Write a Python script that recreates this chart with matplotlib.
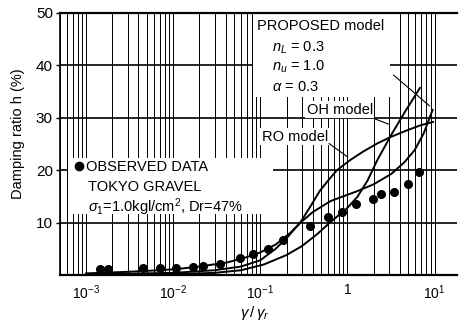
import matplotlib
matplotlib.use("Agg")
import matplotlib.pyplot as plt
from matplotlib.patches import Rectangle
from matplotlib.ticker import LogLocator, FixedLocator, FixedFormatter, NullFormatter

plt.rcParams['font.family'] = ['Liberation Sans', 'DejaVu Sans']
plt.rcParams['mathtext.fontset'] = 'custom'
plt.rcParams['mathtext.rm'] = 'Liberation Sans'
plt.rcParams['mathtext.it'] = 'Liberation Sans:italic'

# ---- data ----
obs_strain = [1.44e-3, 1.78e-3, 4.5e-3, 7.0e-3, 1.07e-2, 1.68e-2, 2.19e-2, 3.44e-2,
              0.058, 0.082, 0.122, 0.18, 0.37, 0.60, 0.865, 1.25, 1.96, 2.42,
              3.42, 4.95, 6.6]
obs_damping = [1.1, 1.1, 1.3, 1.3, 1.4, 1.6, 1.8, 2.1,
               3.2, 4.0, 5.0, 6.7, 9.3, 11.1, 12.0, 13.5, 14.5, 15.5,
               15.8, 17.4, 19.7]

prop_strain = [1e-3, 3e-3, 7e-3, 0.0107, 0.02, 0.042, 0.07, 0.1, 0.15, 0.22, 0.29,
               0.4, 0.64, 1.0, 1.3, 2.0, 3.2, 4.5, 5.9, 7.5, 9.5]
prop_damping = [0.3, 0.6, 0.9, 1.1, 1.6, 2.4, 3.4, 4.3, 5.8, 8.0, 10.0,
                12.0, 14.1, 15.3, 16.0, 17.3, 19.3, 21.5, 23.8, 27.0, 31.5]

ro_strain = [1e-3, 0.01, 0.03, 0.06, 0.1, 0.15, 0.2, 0.29, 0.38, 0.48, 0.62,
             0.76, 1.07, 1.5, 2.2, 3.1, 5.0, 7.0, 9.6]
ro_damping = [0.1, 0.4, 0.9, 1.6, 2.8, 5.0, 7.0, 10.1, 13.2, 16.0, 18.3,
              20.0, 21.9, 23.5, 25.1, 26.3, 27.7, 28.6, 29.2]

oh_strain = [1e-3, 0.01, 0.03, 0.06, 0.11, 0.2, 0.3, 0.45, 0.63, 1.0, 1.3,
             1.7, 2.2, 3.2, 4.6, 6.8]
oh_damping = [0.05, 0.15, 0.4, 0.9, 2.0, 3.8, 5.5, 7.8, 10.0, 12.8, 14.9,
              18.0, 21.9, 26.8, 31.2, 35.7]

x_ticks = [1e-3, 1e-2, 1e-1, 1, 10]
x_tick_labels = [r'$10^{-3}$', r'$10^{-2}$', r'$10^{-1}$', '1', r'$10^{1}$']
y_ticks = [10, 20, 30, 40, 50]

# ---- figure ----
fig = plt.figure(figsize=(4.6, 3.25), dpi=100)
ax = fig.add_axes([0.130, 0.154, 0.863, 0.806])
ax.set_xscale('log')
ax.set_xlim(5e-4, 18)
ax.set_ylim(0, 50)

ax.xaxis.set_major_locator(FixedLocator(x_ticks))
ax.xaxis.set_major_formatter(FixedFormatter(x_tick_labels))
ax.xaxis.set_minor_locator(LogLocator(base=10, subs=range(2, 10), numticks=20))
ax.xaxis.set_minor_formatter(NullFormatter())
ax.set_yticks(y_ticks)
ax.set_yticklabels([str(v) for v in y_ticks])

ax.set_axisbelow(True)
ax.grid(True, which='both', axis='x', color='black', lw=0.7)
ax.grid(True, which='major', axis='y', color='black', lw=1.2)

ax.tick_params(axis='x', which='both', length=0, pad=6, labelsize=10)
ax.tick_params(axis='y', which='major', length=3, width=1, pad=2, labelsize=11)

ax.spines['right'].set_visible(False)
ax.spines['top'].set_linewidth(1.6)
ax.spines['bottom'].set_linewidth(1.6)
ax.spines['left'].set_linewidth(1.2)

# white boxes covering grid
ax.add_patch(Rectangle((0.486, 0.679), 0.345, 0.321, transform=ax.transAxes,
                       facecolor='white', edgecolor='none', zorder=1))
ax.add_patch(Rectangle((0.020, 0.233), 0.517, 0.214, transform=ax.transAxes,
                       facecolor='white', edgecolor='none', zorder=1))

# curves
ax.plot(prop_strain, prop_damping, color='black', lw=1.4, zorder=3)
ax.plot(ro_strain, ro_damping, color='black', lw=1.4, zorder=3)
ax.plot(oh_strain, oh_damping, color='black', lw=1.4, zorder=3)
ax.plot(obs_strain, obs_damping, 'o', color='black', ms=5.5, zorder=4)

fs = 10.5
ax.text(0.496, 0.950, 'PROPOSED model', transform=ax.transAxes, fontsize=fs,
        va='center', ha='left', zorder=5)
ax.text(0.534, 0.866, r'$n_L$ = 0.3', transform=ax.transAxes, fontsize=fs,
        va='center', ha='left', zorder=5)
ax.text(0.534, 0.794, r'$n_u$ = 1.0', transform=ax.transAxes, fontsize=fs,
        va='center', ha='left', zorder=5)
ax.text(0.534, 0.718, r'$\alpha$ = 0.3', transform=ax.transAxes, fontsize=fs,
        va='center', ha='left', zorder=5)

ax.text(0.622, 0.630, 'OH model', transform=ax.transAxes, fontsize=fs,
        va='center', ha='left', zorder=5,
        bbox=dict(facecolor='white', edgecolor='none', pad=1))
ax.text(0.509, 0.527, 'RO model', transform=ax.transAxes, fontsize=fs,
        va='center', ha='left', zorder=5,
        bbox=dict(facecolor='white', edgecolor='none', pad=1))

# leaders
ax.annotate('', xy=(3.17, 28.6), xytext=(1.92, 30.0),
            arrowprops=dict(arrowstyle='-', lw=0.8, color='black'), zorder=5)
ax.annotate('', xy=(1.07, 22.2), xytext=(0.58, 25.4),
            arrowprops=dict(arrowstyle='-', lw=0.8, color='black'), zorder=5)
ax.annotate('', xy=(9.3, 31.9), xytext=(3.2, 38.5),
            arrowprops=dict(arrowstyle='-', lw=0.8, color='black'), zorder=5)

# observed data legend
ax.plot([0.048], [0.416], 'o', color='black', ms=6, transform=ax.transAxes,
        zorder=5, clip_on=False)
ax.text(0.0655, 0.412, 'OBSERVED DATA', transform=ax.transAxes, fontsize=fs,
        va='center', ha='left', zorder=5)
ax.text(0.0705, 0.336, 'TOKYO GRAVEL', transform=ax.transAxes, fontsize=fs,
        va='center', ha='left', zorder=5)
ax.text(0.0705, 0.260, r'$\sigma_1$=1.0kgl/cm$^2$, Dr=47%', transform=ax.transAxes,
        fontsize=fs, va='center', ha='left', zorder=5)

ax.set_ylabel('Damping ratio h (%)', fontsize=10.5)
ax.yaxis.set_label_coords(-0.088, 0.54)
ax.set_xlabel(r'$\gamma\,/\,\gamma_r$', fontsize=11)
ax.xaxis.set_label_coords(0.49, -0.112)

fig.savefig('out.png', dpi=100)
